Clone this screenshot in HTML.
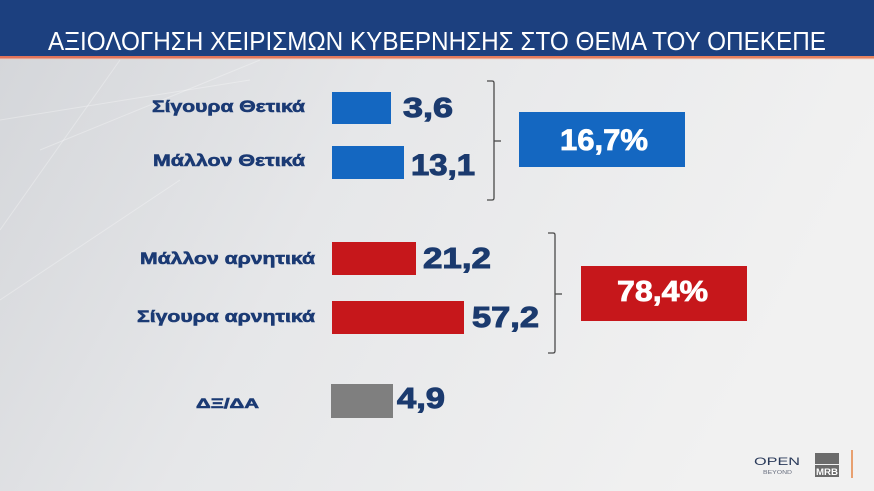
<!DOCTYPE html>
<html>
<head>
<meta charset="utf-8">
<style>
  html, body { margin:0; padding:0; width:874px; height:491px; overflow:hidden; }
  svg { display:block; }
  .lbl { font-family: "Liberation Sans", "Noto Sans CJK SC", sans-serif; font-weight:bold; fill:#1b3a74; stroke:#1b3a74; stroke-width:0.6; }
  .num { font-family: "Liberation Sans", "Noto Sans CJK SC", sans-serif; font-weight:bold; fill:#1b3a6e; stroke:#1b3a6e; stroke-width:1; }
  .pct { font-family: "Liberation Sans", "Noto Sans CJK SC", sans-serif; font-weight:bold; fill:#ffffff; stroke:#ffffff; stroke-width:0.8; }
  .ttl { font-family: "Liberation Sans", "Noto Sans CJK SC", sans-serif; fill:#ffffff; }
</style>
</head>
<body>
<svg width="874" height="491" viewBox="0 0 874 491" xmlns="http://www.w3.org/2000/svg">
  <defs>
    <linearGradient id="bg" x1="0" y1="0" x2="1" y2="0.3">
      <stop offset="0" stop-color="#d3d5d9"/>
      <stop offset="0.45" stop-color="#e6e7e9"/>
      <stop offset="1" stop-color="#f1f1f1"/>
    </linearGradient>
    <linearGradient id="orange" x1="0" y1="0" x2="1" y2="0">
      <stop offset="0" stop-color="#e2735a"/>
      <stop offset="1" stop-color="#e8825e"/>
    </linearGradient>
  </defs>
  <!-- background -->
  <rect x="0" y="0" width="874" height="491" fill="url(#bg)"/>
  <!-- faint diagonal lines -->
  <g stroke="#ffffff" stroke-opacity="0.3" stroke-width="1" fill="none">
    <line x1="0" y1="230" x2="120" y2="60"/>
    <line x1="0" y1="120" x2="250" y2="80"/>
    <line x1="0" y1="300" x2="180" y2="180"/>
    <line x1="40" y1="150" x2="260" y2="60"/>
  </g>
  <!-- title bar -->
  <rect x="0" y="0" width="874" height="56" fill="#1c407f"/>
  <rect x="0" y="56" width="874" height="2.5" fill="url(#orange)"/>
  <rect x="0" y="58.5" width="874" height="1" fill="#f0c8b8" opacity="0.6"/>
  <text class="ttl" x="48" y="50" font-size="26" textLength="778" lengthAdjust="spacingAndGlyphs">ΑΞΙΟΛΟΓΗΣΗ ΧΕΙΡΙΣΜΩΝ ΚΥΒΕΡΝΗΣΗΣ ΣΤΟ ΘΕΜΑ ΤΟΥ ΟΠΕΚΕΠΕ</text>

  <!-- labels -->
  <text class="lbl" x="152" y="112" font-size="17" textLength="153" lengthAdjust="spacingAndGlyphs">Σίγουρα Θετικά</text>
  <text class="lbl" x="153" y="166" font-size="17" textLength="152" lengthAdjust="spacingAndGlyphs">Μάλλον Θετικά</text>
  <text class="lbl" x="140" y="264" font-size="17" textLength="175" lengthAdjust="spacingAndGlyphs">Μάλλον αρνητικά</text>
  <text class="lbl" x="137" y="322" font-size="17" textLength="178" lengthAdjust="spacingAndGlyphs">Σίγουρα αρνητικά</text>
  <text class="lbl" x="196" y="408" font-size="14" textLength="63" lengthAdjust="spacingAndGlyphs">ΔΞ/ΔΑ</text>

  <!-- bars -->
  <rect x="332" y="92" width="59" height="32" fill="#1467c1"/>
  <rect x="332" y="146" width="72" height="33" fill="#1467c1"/>
  <rect x="332" y="242" width="84" height="33" fill="#c6171b"/>
  <rect x="332" y="301" width="132" height="33" fill="#c6171b"/>
  <rect x="331" y="384" width="62" height="34" fill="#7f7f7f"/>

  <!-- values -->
  <text class="num" x="403" y="117" font-size="28" textLength="50" lengthAdjust="spacingAndGlyphs">3,6</text>
  <text class="num" x="411" y="175" font-size="30" textLength="64" lengthAdjust="spacingAndGlyphs">13,1</text>
  <text class="num" x="423" y="268" font-size="29" textLength="68" lengthAdjust="spacingAndGlyphs">21,2</text>
  <text class="num" x="472" y="327" font-size="29" textLength="67" lengthAdjust="spacingAndGlyphs">57,2</text>
  <text class="num" x="397" y="408" font-size="29" textLength="48" lengthAdjust="spacingAndGlyphs">4,9</text>

  <!-- brackets -->
  <g stroke="#4a4a4a" stroke-width="1.3" fill="none">
    <path d="M487 81 L492 81 Q494 81 494 83 L494 198 Q494 200 492 200 L487 200"/>
    <line x1="494" y1="141" x2="501" y2="141"/>
    <path d="M548 233 L553 233 Q555 233 555 235 L555 351 Q555 353 553 353 L548 353"/>
    <line x1="555" y1="294" x2="562" y2="294"/>
  </g>

  <!-- totals -->
  <rect x="519" y="112" width="166" height="55" fill="#1467c1"/>
  <text class="pct" x="560" y="150" font-size="30" textLength="88" lengthAdjust="spacingAndGlyphs">16,7%</text>
  <rect x="581" y="266" width="166" height="55" fill="#c6171b"/>
  <text class="pct" x="617" y="301" font-size="29" textLength="91" lengthAdjust="spacingAndGlyphs">78,4%</text>

  <!-- footer logos -->
  <text x="754" y="465" font-family="Liberation Sans, sans-serif" font-size="11" fill="#2a3a5a" textLength="46" lengthAdjust="spacingAndGlyphs">OPEN</text>
  <text x="763" y="474" font-family="Liberation Sans, sans-serif" font-size="5" fill="#6a7080" textLength="29" lengthAdjust="spacingAndGlyphs">BEYOND</text>
  <rect x="815" y="453" width="24" height="11" fill="#6b6b6b"/>
  <rect x="815" y="465" width="24" height="12" fill="#6b6b6b"/>
  <text x="816" y="475" font-family="Liberation Sans, sans-serif" font-weight="bold" font-size="9" fill="#ffffff" textLength="22" lengthAdjust="spacingAndGlyphs">MRB</text>
  <rect x="851" y="450" width="2" height="28" fill="#e8a070"/>
</svg>
</body>
</html>
